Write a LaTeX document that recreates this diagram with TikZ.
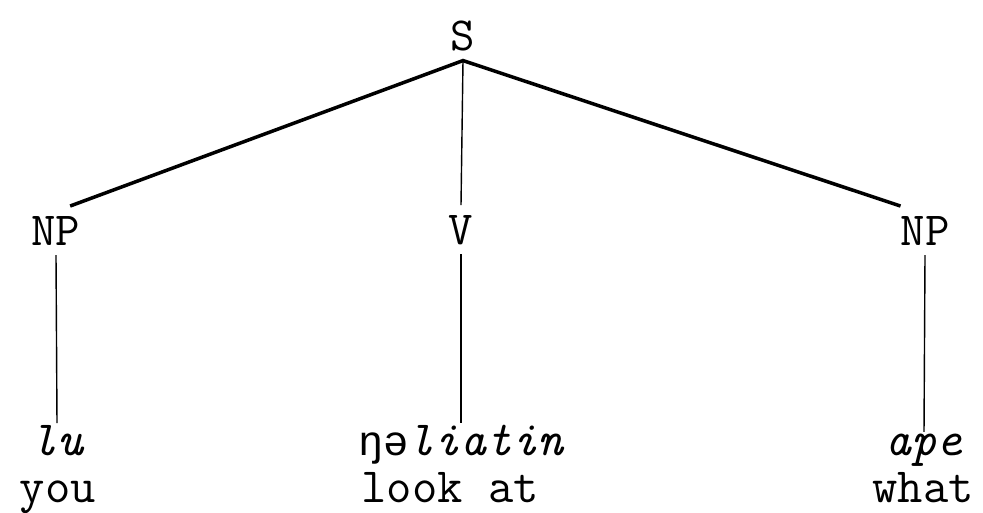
\documentclass[tikz,border=0pt]{standalone}
\usepackage{fontspec}
\newfontfamily\ipamono{Liberation Mono}
\usepackage{tikz}
\usetikzlibrary{positioning}

\begin{document}
\begin{tikzpicture}[
    x=0.02cm, y=-0.02cm,
    cat/.style={anchor=base, inner sep=0.2cm, outer sep=0pt, font=\fontsize{27}{30}\selectfont\ttfamily},
    wd/.style={anchor=base, inner sep=1pt, outer sep=0pt, font=\fontsize{28}{32}\selectfont\ttfamily},
    br/.style={line width=2pt},
    st/.style={line width=0.8pt},
  ]
  \useasboundingbox (0,0) rectangle (983,512);
  \node[cat] (S)   at (463,50)  {S};
  \node[cat] (npl) at (56,245)  {NP};
  \node[cat] (V)   at (461,244) {V};
  \node[cat] (npr) at (925,245) {NP};
  \node[wd] (lu)  at (57,455)  {\itshape lu};
  \node[wd] (ng)  at (461,455) {{\ipamono\fontsize{24}{28}\selectfont ŋə}\itshape liatin};
  \node[wd] (ape) at (924,455) {\itshape ape};
  \node[wd, inner sep=0pt] (you)  at (58,502)  {you};
  \node[wd, inner sep=0pt] (look) at (450,502) {look at};
  \node[wd, inner sep=0pt] (what) at (923,502) {what};
  \draw[br] (npl.60) -- (S.south) -- (npr.135);
  \draw[st] (S.south) -- (V.north);
  \draw[st] (npl.south) -- (lu.north);
  \draw[st] (V.south) -- (ng.north);
  \draw[st] (npr.south) -- (ape.north);
\end{tikzpicture}
\end{document}
